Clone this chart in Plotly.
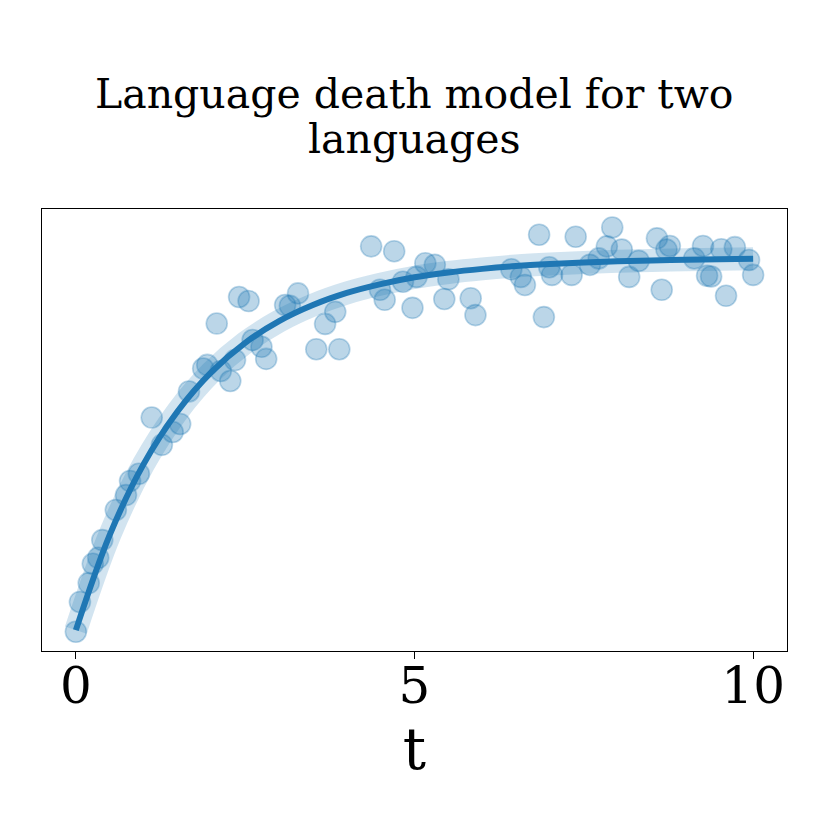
import plotly.graph_objects as go

# Observed data (time t, normalised fraction of speakers)
t_obs = [0.00, 0.06, 0.19, 0.25, 0.33, 0.39, 0.59, 0.74, 0.80, 0.93,
         1.12, 1.27, 1.43, 1.54, 1.67, 1.88, 1.94, 2.08, 2.14, 2.28,
         2.35, 2.41, 2.55, 2.61, 2.74, 2.81, 3.09, 3.16, 3.28, 3.55,
         3.68, 3.83, 3.89, 4.36, 4.49, 4.56, 4.70, 4.83, 4.97, 5.03,
         5.16, 5.30, 5.44, 5.50, 5.83, 5.90, 6.43, 6.57, 6.63, 6.84,
         6.91, 6.99, 7.03, 7.32, 7.38, 7.59, 7.72, 7.84, 7.92, 8.06,
         8.17, 8.31, 8.58, 8.65, 8.72, 8.77, 9.13, 9.26, 9.32, 9.38,
         9.53, 9.60, 9.73, 9.94, 10.00]
y_obs = [-0.002, 0.072, 0.119, 0.167, 0.182, 0.226, 0.301, 0.338, 0.373, 0.391,
         0.531, 0.463, 0.495, 0.515, 0.596, 0.653, 0.662, 0.765, 0.647, 0.622,
         0.674, 0.831, 0.821, 0.724, 0.707, 0.677, 0.811, 0.809, 0.840, 0.701,
         0.764, 0.794, 0.701, 0.957, 0.849, 0.824, 0.945, 0.869, 0.804, 0.881,
         0.915, 0.911, 0.826, 0.875, 0.828, 0.786, 0.900, 0.881, 0.861, 0.986,
         0.781, 0.905, 0.886, 0.886, 0.981, 0.911, 0.927, 0.957, 1.004, 0.949,
         0.881, 0.921, 0.977, 0.849, 0.949, 0.958, 0.927, 0.958, 0.884, 0.882,
         0.950, 0.834, 0.955, 0.923, 0.886]

# Model curve
t_model = [0.0, 0.5, 1.0, 1.5, 2.0, 2.5, 3.0, 3.5, 4.0, 4.5, 5.0,
           5.5, 6.0, 6.5, 7.0, 7.5, 8.0, 8.5, 9.0, 9.5, 10.0]
y_model = [0.002, 0.239, 0.415, 0.546, 0.644, 0.717, 0.771, 0.811, 0.841, 0.863, 0.880,
           0.892, 0.901, 0.908, 0.913, 0.917, 0.920, 0.922, 0.924, 0.925, 0.926]

x_ticks = [0, 5, 10]
title_lines = ["Language death model for two", "languages"]
x_label = "t"

blue = "31,119,180"
fig = go.Figure()
fig.add_trace(go.Scatter(x=t_model, y=y_model, mode="lines", line_shape="spline",
                         line=dict(color=f"rgba({blue},0.2)", width=23),
                         hoverinfo="skip", showlegend=False))
fig.add_trace(go.Scatter(x=t_obs, y=y_obs, mode="markers",
                         marker=dict(size=21, color=f"rgba({blue},0.3)",
                                     line=dict(color=f"rgba({blue},0.3)", width=1.6)),
                         showlegend=False))
fig.add_trace(go.Scatter(x=t_model, y=y_model, mode="lines", line_shape="spline",
                         line=dict(color=f"rgb({blue})", width=6),
                         showlegend=False))

# title as two centred lines (tighter line spacing than plotly's title)
for line, ypos in zip(title_lines, [1.2602, 1.1584]):
    fig.add_annotation(text=line, xref="paper", yref="paper", x=0.5, y=ypos,
                       xanchor="center", yanchor="middle", showarrow=False,
                       font=dict(family="DejaVu Serif", size=41, color="black"))

fig.update_layout(
    width=830, height=830,
    margin=dict(l=34, r=51, t=201, b=187),
    paper_bgcolor="white", plot_bgcolor="white",
    font=dict(family="DejaVu Serif", color="black"),
    xaxis=dict(range=[-0.5, 10.5], tickvals=x_ticks, ticktext=[str(v) for v in x_ticks],
               ticks="outside", ticklen=7, tickwidth=1.3, tickcolor="black",
               ticklabelstandoff=-16,
               tickfont=dict(family="DejaVu Serif", size=50, color="black"),
               showline=True, linecolor="black", linewidth=1.3, mirror=True,
               showgrid=False, zeroline=False,
               title=dict(text=x_label, standoff=6,
                          font=dict(family="DejaVu Serif", size=58, color="black"))),
    yaxis=dict(range=[-0.05, 1.05], showticklabels=False, ticks="",
               showline=True, linecolor="black", linewidth=1.3, mirror=True,
               showgrid=False, zeroline=False),
)

fig.write_html("out.html")
